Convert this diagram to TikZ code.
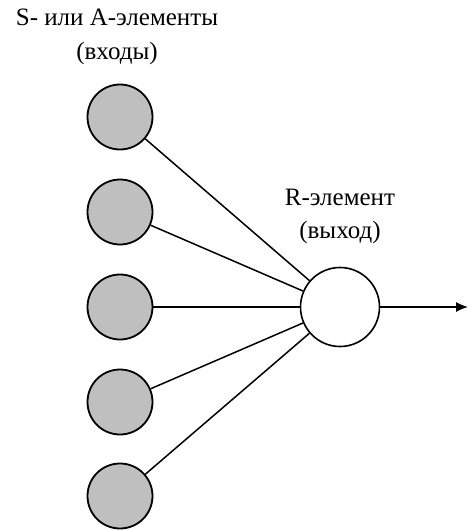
\documentclass[tikz,border=0pt]{standalone}
\usepackage{fontspec}
\setmainfont{Liberation Serif}
\usepackage{tikz}
\usetikzlibrary{positioning, calc, arrows.meta}

\tikzset{
    inelem/.style={circle, draw, line width=1.8pt, fill=black!25, minimum size=65pt, inner sep=0pt},
    outelem/.style={circle, draw, line width=1.6pt, fill=white, minimum size=79pt, inner sep=0pt},
    wire/.style={line width=1.5pt},
    lbl/.style={font=\fontsize{25}{30}\selectfont, align=center, inner sep=0pt}
}

\begin{document}
\begin{tikzpicture}[x=1pt, y=-1pt]

    % --- PAGE FRAME ---
    \useasboundingbox (0,0) rectangle (466,530);

    % --- INPUT COLUMN (S or A elements) ---
    \node[inelem] (s1) at (120,117) {};
    \node[inelem] (s2) at (120,212) {};
    \node[inelem] (s3) at (120,307) {};
    \node[inelem] (s4) at (120,402) {};
    \node[inelem] (s5) at (120,496) {};

    % --- OUTPUT ELEMENT ---
    \node[outelem] (r) at (340,307) {};
    \coordinate (out) at (468,307);

    % --- LABELS ---
    \node[lbl] (intitle) at (117,17) {S- или A-элементы};
    \node[lbl] (innote)  at (117,53) {(входы)};
    \node[lbl] (rtitle)  at (340,197) {R-элемент};
    \node[lbl] (rnote)   at (340,232) {(выход)};

    % --- CONNECTIONS ---
    \draw[wire] (s1) -- (r);
    \draw[wire] (s2) -- (r);
    \draw[wire] (s3) -- (r);
    \draw[wire] (s4) -- (r);
    \draw[wire] (s5) -- (r);

    % Output arrow
    \draw[line width=1.2pt, -{Latex[length=12pt, width=10pt]}] (r) -- (out);

\end{tikzpicture}
\end{document}
